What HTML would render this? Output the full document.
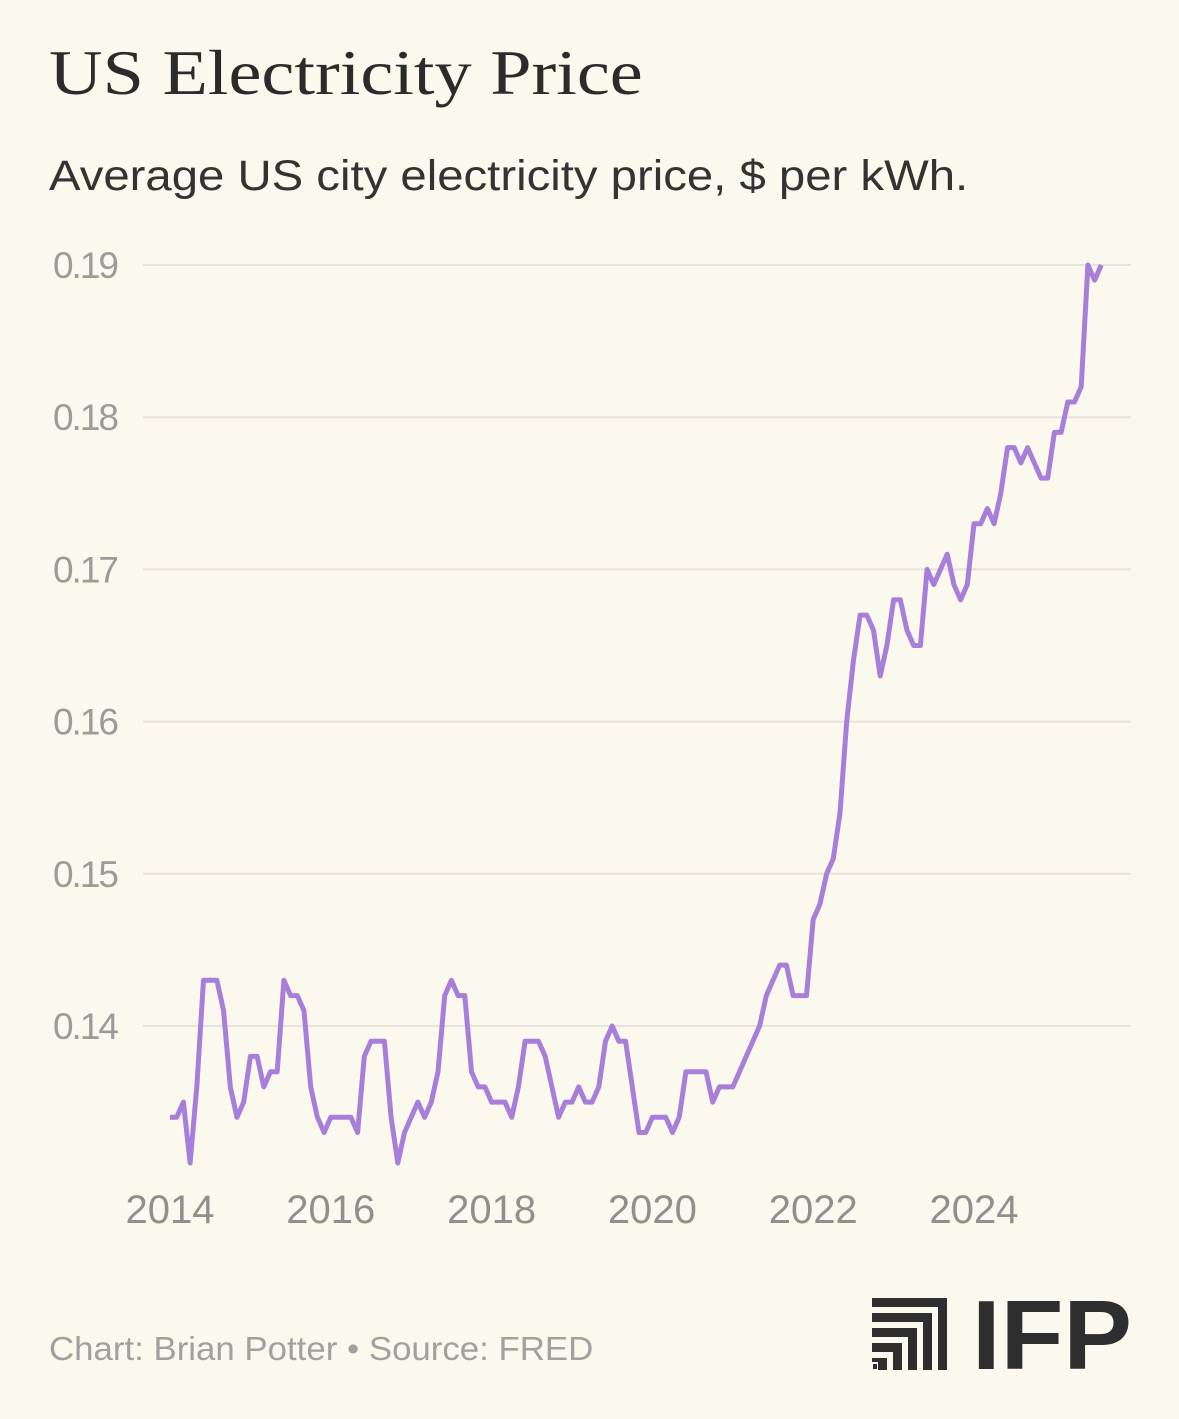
<!DOCTYPE html>
<html><head><meta charset="utf-8"><style>
html,body{margin:0;padding:0;background:#fbf8ed;}
body{width:1179px;height:1419px;position:relative;overflow:hidden;font-family:"Liberation Sans",sans-serif;}
#title{position:absolute;left:49px;top:36px;font-family:"Liberation Serif",serif;font-size:64px;color:#2b2b2b;margin:0;font-weight:normal;white-space:nowrap;transform:scaleX(1.16);transform-origin:left top;}
#sub{position:absolute;left:49px;top:152px;font-size:43px;color:#333;white-space:nowrap;transform:scaleX(1.10);transform-origin:left top;}
#foot{position:absolute;left:49px;top:1330px;font-size:33px;color:#a0a0a0;white-space:nowrap;transform:scaleX(1.055);transform-origin:left top;}
svg{position:absolute;left:0;top:0;}
</style></head><body>
<h1 id="title">US Electricity Price</h1>
<div id="sub">Average US city electricity price, $ per kWh.</div>
<svg id="chart" width="1179" height="1419"></svg>
<div id="foot">Chart: Brian Potter • Source: FRED</div>
<svg width="1179" height="1419" style="pointer-events:none">
  <g fill="#2e2e2e">
    <rect x="872" y="1298" width="75" height="9"/><rect x="938" y="1298" width="9" height="72"/>
    <rect x="872" y="1313" width="60" height="9"/><rect x="923" y="1313" width="9" height="57"/>
    <rect x="872" y="1328" width="45" height="9"/><rect x="908" y="1328" width="9" height="42"/>
    <rect x="872" y="1343" width="30" height="9"/><rect x="893" y="1343" width="9" height="27"/>
    <rect x="872" y="1358" width="15" height="4"/><rect x="878" y="1358" width="9" height="12"/>
    <rect x="873" y="1364" width="4" height="5"/>
  </g>
  <text x="972" y="1369" font-family="Liberation Sans, sans-serif" font-weight="bold" font-size="98" fill="#2e2e2e" textLength="160" lengthAdjust="spacingAndGlyphs">IFP</text>
</svg>
<script>
const yTicks=[0.14,0.15,0.16,0.17,0.18,0.19];
const yTickLabels=["0.14","0.15","0.16","0.17","0.18","0.19"];
const xTicks=[2014,2016,2018,2020,2022,2024];
const startYear=2014;
const prices=[
0.134,0.134,0.135,0.131,0.136,0.143,0.143,0.143,0.141,0.136,0.134,0.135,
0.138,0.138,0.136,0.137,0.137,0.143,0.142,0.142,0.141,0.136,0.134,0.133,
0.134,0.134,0.134,0.134,0.133,0.138,0.139,0.139,0.139,0.134,0.131,0.133,
0.134,0.135,0.134,0.135,0.137,0.142,0.143,0.142,0.142,0.137,0.136,0.136,
0.135,0.135,0.135,0.134,0.136,0.139,0.139,0.139,0.138,0.136,0.134,0.135,
0.135,0.136,0.135,0.135,0.136,0.139,0.140,0.139,0.139,0.136,0.133,0.133,
0.134,0.134,0.134,0.133,0.134,0.137,0.137,0.137,0.137,0.135,0.136,0.136,
0.136,0.137,0.138,0.139,0.140,0.142,0.143,0.144,0.144,0.142,0.142,0.142,
0.147,0.148,0.150,0.151,0.154,0.160,0.164,0.167,0.167,0.166,0.163,0.165,
0.168,0.168,0.166,0.165,0.165,0.170,0.169,0.170,0.171,0.169,0.168,0.169,
0.173,0.173,0.174,0.173,0.175,0.178,0.178,0.177,0.178,0.177,0.176,0.176,
0.179,0.179,0.181,0.181,0.182,0.190,0.189,0.190];
const svg=document.getElementById('chart');
const NS='http://www.w3.org/2000/svg';
function xS(yearFrac){return 170+(yearFrac-2014)*80.4;}
function yS(v){return 265+(0.19-v)*15220;}
yTicks.forEach((t,i)=>{
  const l=document.createElementNS(NS,'line');
  
  
  l.setAttribute('x1',143);l.setAttribute('x2',1131);
  l.setAttribute('y1',yS(t));l.setAttribute('y2',yS(t));
  l.setAttribute('stroke','#e6e2dc');l.setAttribute('stroke-width','2');
  svg.appendChild(l);
  const tx=document.createElementNS(NS,'text');
  
  
  tx.setAttribute('x',117);tx.setAttribute('y',yS(t)+13);
  tx.setAttribute('text-anchor','end');
  tx.setAttribute('font-family','Liberation Sans, sans-serif');
  tx.setAttribute('font-size','37');tx.setAttribute('fill','#9b9b9b');
  tx.setAttribute('letter-spacing','-2');
  tx.textContent=yTickLabels[i];
  svg.appendChild(tx);
});
xTicks.forEach(yr=>{
  const tx=document.createElementNS(NS,'text');
  
  
  tx.setAttribute('x',xS(yr));tx.setAttribute('y',1223);
  tx.setAttribute('text-anchor','middle');
  tx.setAttribute('font-family','Liberation Sans, sans-serif');
  tx.setAttribute('font-size','40');tx.setAttribute('fill','#8f8f8f');
  tx.textContent=String(yr);
  svg.appendChild(tx);
});
const pts=prices.map((v,i)=>xS(startYear+i/12).toFixed(1)+','+yS(v).toFixed(1)).join(' ');
const pl=document.createElementNS(NS,'polyline');


pl.setAttribute('points',pts);
pl.setAttribute('fill','none');pl.setAttribute('stroke','#a77fdb');
pl.setAttribute('stroke-width','5');pl.setAttribute('stroke-linejoin','round');
svg.appendChild(pl);
</script>
</body></html>
